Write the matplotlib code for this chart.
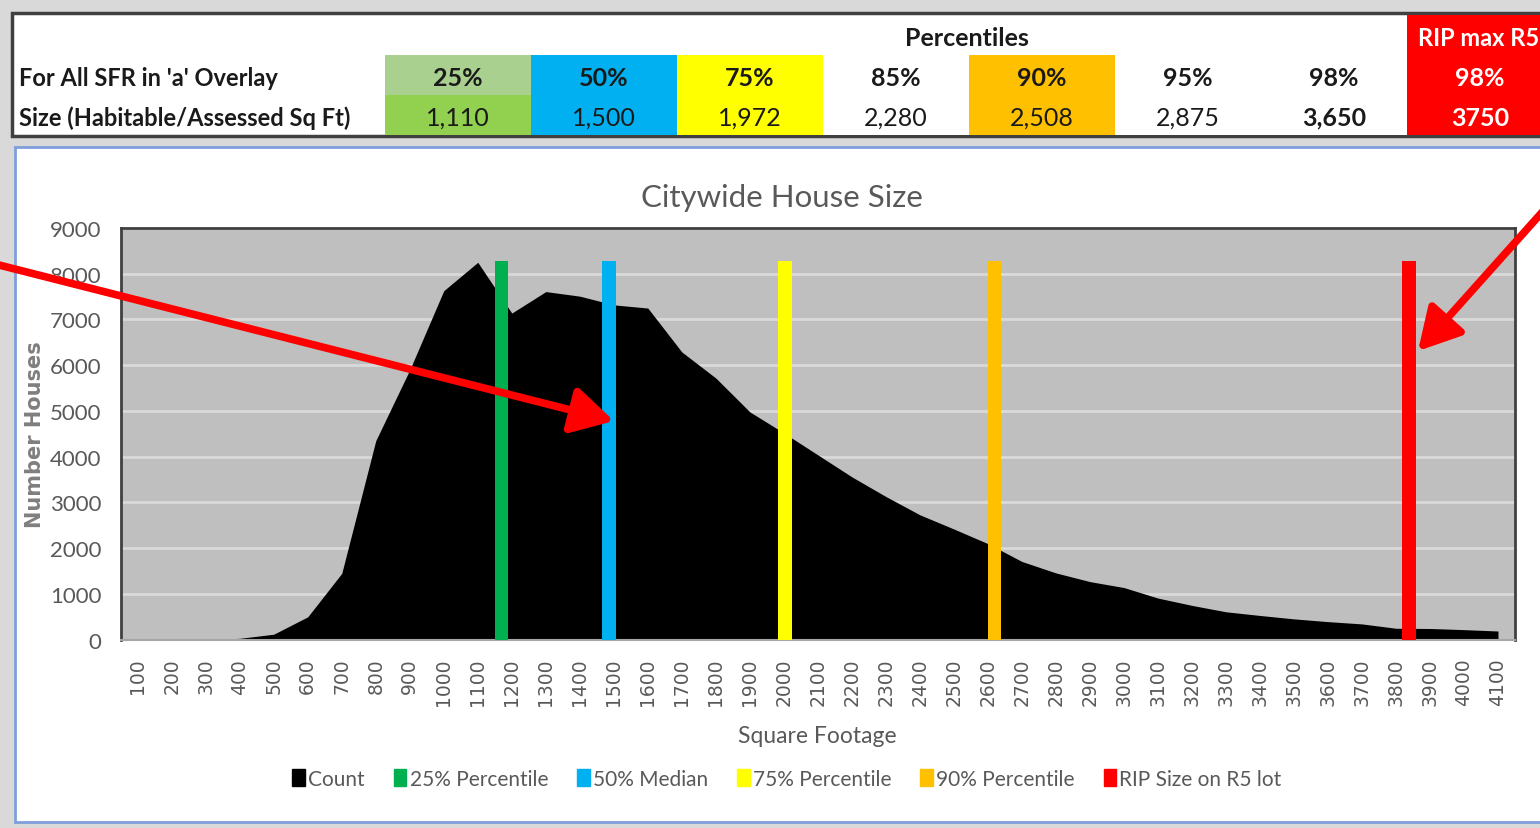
import matplotlib
matplotlib.use("Agg")
import matplotlib.pyplot as plt
from matplotlib.patches import Rectangle, Patch, FancyArrowPatch

# data
sq_ft = list(range(100, 4200, 100))
counts = [0, 0, 0, 30, 120, 500, 1450, 4350, 5900, 7630,
          8250, 7140, 7610, 7510, 7320, 7250, 6290, 5720, 4980, 4520,
          4040, 3560, 3130, 2730, 2420, 2100, 1710, 1460, 1270, 1140,
          910, 750, 610, 530, 455, 395, 345, 250, 245, 220, 190]

marker_labels = ["25% Percentile", "50% Median", "75% Percentile", "90% Percentile", "RIP Size on R5 lot"]
marker_pos = [1170, 1485, 2003, 2620, 3838]
marker_height = [8280, 8280, 8280, 8280, 8280]
marker_colors = ["#00b050", "#00b0f0", "#ffff00", "#ffc000", "#ff0000"]

# summary table
pct_head = ["25%", "50%", "75%", "85%", "90%", "95%", "98%", "98%"]
pct_vals = ["1,110", "1,500", "1,972", "2,280", "2,508", "2,875", "3,650", "3750"]
head_colors = ["#a9d08e", "#00b0f0", "#ffff00", "white", "#ffc000", "white", "white", "#ff0000"]
val_colors = ["#92d050", "#00b0f0", "#ffff00", "white", "#ffc000", "white", "white", "#ff0000"]

W, H = 1540, 829
narrow = ["Lato", "DejaVu Sans"]
gray = "#595959"


def fx(x):
    return x / W


def fy(y):
    return 1 - y / H


fig = plt.figure(figsize=(W / 100, H / 100), dpi=100)
fig.patch.set_facecolor("#d9d9d9")

# table box
fig.add_artist(Rectangle((fx(12), fy(137)), fx(1600) - fx(12), fy(14) - fy(137),
                         transform=fig.transFigure, facecolor="white",
                         edgecolor="#404040", lw=2.5, zorder=-3))
col_w = 146
x0 = 385
for i in range(8):
    left = x0 + i * col_w
    if i == 7:
        fig.add_artist(Rectangle((fx(left), fy(136)), fx(col_w + 10), fy(16) - fy(136),
                                 transform=fig.transFigure, facecolor=head_colors[i],
                                 lw=0, zorder=-2))
    else:
        fig.add_artist(Rectangle((fx(left), fy(96)), fx(col_w), fy(56) - fy(96),
                                 transform=fig.transFigure, facecolor=head_colors[i],
                                 lw=0, zorder=-2))
        fig.add_artist(Rectangle((fx(left), fy(136)), fx(col_w), fy(96) - fy(136),
                                 transform=fig.transFigure, facecolor=val_colors[i],
                                 lw=0, zorder=-2))
    tc = "white" if i == 7 else "#1a1a1a"
    fig.text(fx(left + col_w / 2), fy(78), pct_head[i], ha="center", va="center",
             fontsize=18, fontweight="bold", color=tc, family=narrow)
    fig.text(fx(left + col_w / 2), fy(118), pct_vals[i], ha="center", va="center",
             fontsize=18, fontweight="bold" if i >= 6 else "normal", color=tc, family=narrow)

fig.text(fx(967), fy(38), "Percentiles", ha="center", va="center", fontsize=18,
         fontweight="bold", color="#1a1a1a", family=narrow)
fig.text(fx(1479), fy(38), "RIP max R5", ha="center", va="center", fontsize=17,
         fontweight="bold", color="white", family=narrow)
fig.text(fx(19), fy(78), "For All SFR in 'a' Overlay", ha="left", va="center",
         fontsize=17, fontweight="bold", color="#1a1a1a", family=narrow)
fig.text(fx(19), fy(118), "Size (Habitable/Assessed Sq Ft)", ha="left", va="center",
         fontsize=17, fontweight="bold", color="#1a1a1a", family=narrow)

# chart box
fig.add_artist(Rectangle((fx(15), fy(823)), fx(1600), fy(148) - fy(823),
                         transform=fig.transFigure, facecolor="white",
                         edgecolor="#7f9fdc", lw=2, zorder=-3))

ax = fig.add_axes([fx(120.7), fy(640.7), fx(1515) - fx(120.7), fy(229) - fy(640.7)])
ax.set_facecolor("#bfbfbf")
ax.fill_between(sq_ft, counts, 0, color="black", lw=0, zorder=2, label="Count")
ax.bar(marker_pos, marker_height, width=40, color=marker_colors, zorder=3)

ax.set_xlim(50, 4150)
ax.set_ylim(0, 9000)
ax.set_yticks(range(0, 9001, 1000))
ax.set_xticks(sq_ft)
ax.set_xticklabels([str(v) for v in sq_ft], rotation=90, fontsize=13.5,
                   color=gray, family="DejaVu Sans")
ax.tick_params(axis="x", length=0, pad=13)
ax.tick_params(axis="y", length=0, pad=14, labelsize=16, labelcolor=gray)
for t in ax.get_yticklabels():
    t.set_family(narrow)
ax.grid(axis="y", color="#d9d9d9", lw=2, zorder=1)
ax.set_axisbelow(True)
for s in ["top", "left", "right"]:
    ax.spines[s].set_color("#404040")
    ax.spines[s].set_linewidth(2)
ax.spines["bottom"].set_color("#a6a6a6")
ax.spines["bottom"].set_linewidth(1.5)

fig.text(fx(782), fy(198), "Citywide House Size", ha="center", va="center",
         fontsize=22.5, color=gray, family=narrow)
fig.text(fx(35), fy(435), "Number Houses", ha="center", va="center", rotation=90,
         fontsize=15, fontweight="bold", color="#7f7f7f", family="DejaVu Sans")
fig.text(fx(817), fy(737), "Square Footage", ha="center", va="center",
         fontsize=16.5, color=gray, family=narrow)

handles = [Patch(color="black", label="Count")]
handles += [Patch(color=c, label=l) for c, l in zip(marker_colors, marker_labels)]
fig.legend(handles=handles, loc="center", bbox_to_anchor=(fx(787), fy(780)),
           ncol=6, frameon=False, handlelength=0.6, handleheight=0.9,
           handletextpad=0.15, columnspacing=1.4,
           prop={"family": narrow, "size": 15}, labelcolor=gray)

# red call-out arrows
for start, end in [((-5, 265), (614, 422)), ((1545, 210), (1418, 352))]:
    fig.add_artist(FancyArrowPatch((fx(start[0]), fy(start[1])), (fx(end[0]), fy(end[1])),
                                   transform=fig.transFigure, color="#ff0000", lw=5.5,
                                   arrowstyle="-|>,head_length=0.9,head_width=0.5",
                                   mutation_scale=28, shrinkA=0, shrinkB=0, zorder=10))

fig.savefig("out.png", dpi=100, facecolor=fig.get_facecolor())
